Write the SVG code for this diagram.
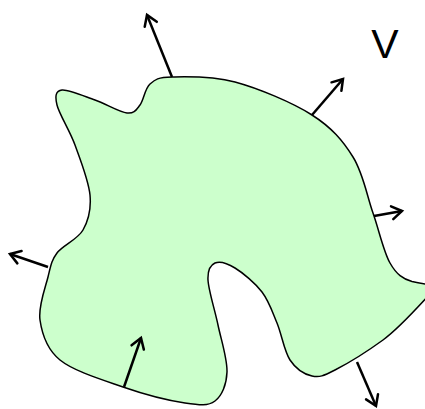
<svg xmlns="http://www.w3.org/2000/svg" width="425" height="409" viewBox="0 0 425 409">
<style>
.region{fill:#ccffcc;stroke:#000;stroke-width:1.5}
.vec{stroke:#000;stroke-width:2.5;fill:none;marker-end:url(#ah)}
.lbl{font-family:"Liberation Sans","DejaVu Sans",sans-serif;font-size:41px;fill:#000}
</style>
<defs>
<marker id="ah" markerUnits="userSpaceOnUse" markerWidth="20" markerHeight="20" refX="0" refY="0" viewBox="-12 -10 14 20" orient="auto" overflow="visible">
<path d="M-10,-6.5 L0,0 L-10,6.5" fill="none" stroke="#000" stroke-width="2.5" stroke-linecap="round" stroke-linejoin="miter"/>
</marker>
</defs>
<g id="region">
<path class="region" d="M172,77 C186.2,76.7 211.7,75.7 235,82 C258.3,88.3 292.3,102.5 312,115 C331.7,127.5 342.8,140.7 353,157 C363.2,173.3 366.8,195.3 373,213 C379.2,230.7 383.5,251.5 390,263 C396.5,274.5 403,279 412,281.5 C418,283 424,284 432,285 L440,290 L430,294 C420,305 397,330 383,340 C369.2,350 346.8,364 335,370 C323.2,376 319.5,377.7 312,376 C304.5,374.3 295.8,368.8 290,360 C284.2,351.2 281.7,334.3 277,323 C272.3,311.7 269,301.2 262,292 C255,282.8 242.8,272.8 235,268 C227.2,263.2 219.5,261 215,263 C210.5,265 207.5,269.7 208,280 C208.5,290.3 214.8,309.7 218,325 C221.2,340.3 227.5,359.3 227,372 C226.5,384.7 222,395.8 215,401 C208,406.2 200.3,405.3 185,403 C169.7,400.7 143.8,394.2 123,387 C102.2,379.8 73.8,371.2 60,360 C46.2,348.8 42,333.8 40,320 C38,306.2 45.2,288.2 48,277 C50.8,265.8 51.2,260.8 57,253 C62.8,245.2 77.5,239.7 83,230 C88.5,220.3 91.3,209.2 90,195 C88.7,180.8 80.5,160 75,145 C69.5,130 59.2,114.2 57,105 C54.8,95.8 55.7,90.8 62,90 C68.3,89.2 84.2,96.2 95,100 C105.8,103.8 119.5,112.2 127,113 C134.5,113.8 136.2,109.8 140,105 C143.8,100.2 144.7,88.7 150,84 C155.3,79.3 157.8,77.3 172,77 Z"/>
</g>
<g id="connectors">
<line class="vec" x1="172" y1="77" x2="147" y2="15"/>
<line class="vec" x1="312" y1="115" x2="343" y2="79"/>
<line class="vec" x1="374" y1="216" x2="402" y2="211"/>
<line class="vec" x1="48" y1="267" x2="10" y2="254"/>
<line class="vec" x1="124" y1="387" x2="141" y2="338"/>
<line class="vec" x1="357" y1="362" x2="376" y2="406"/>
</g>
<g id="label">
<text class="lbl" x="385" y="58" text-anchor="middle">V</text>
</g>
</svg>
